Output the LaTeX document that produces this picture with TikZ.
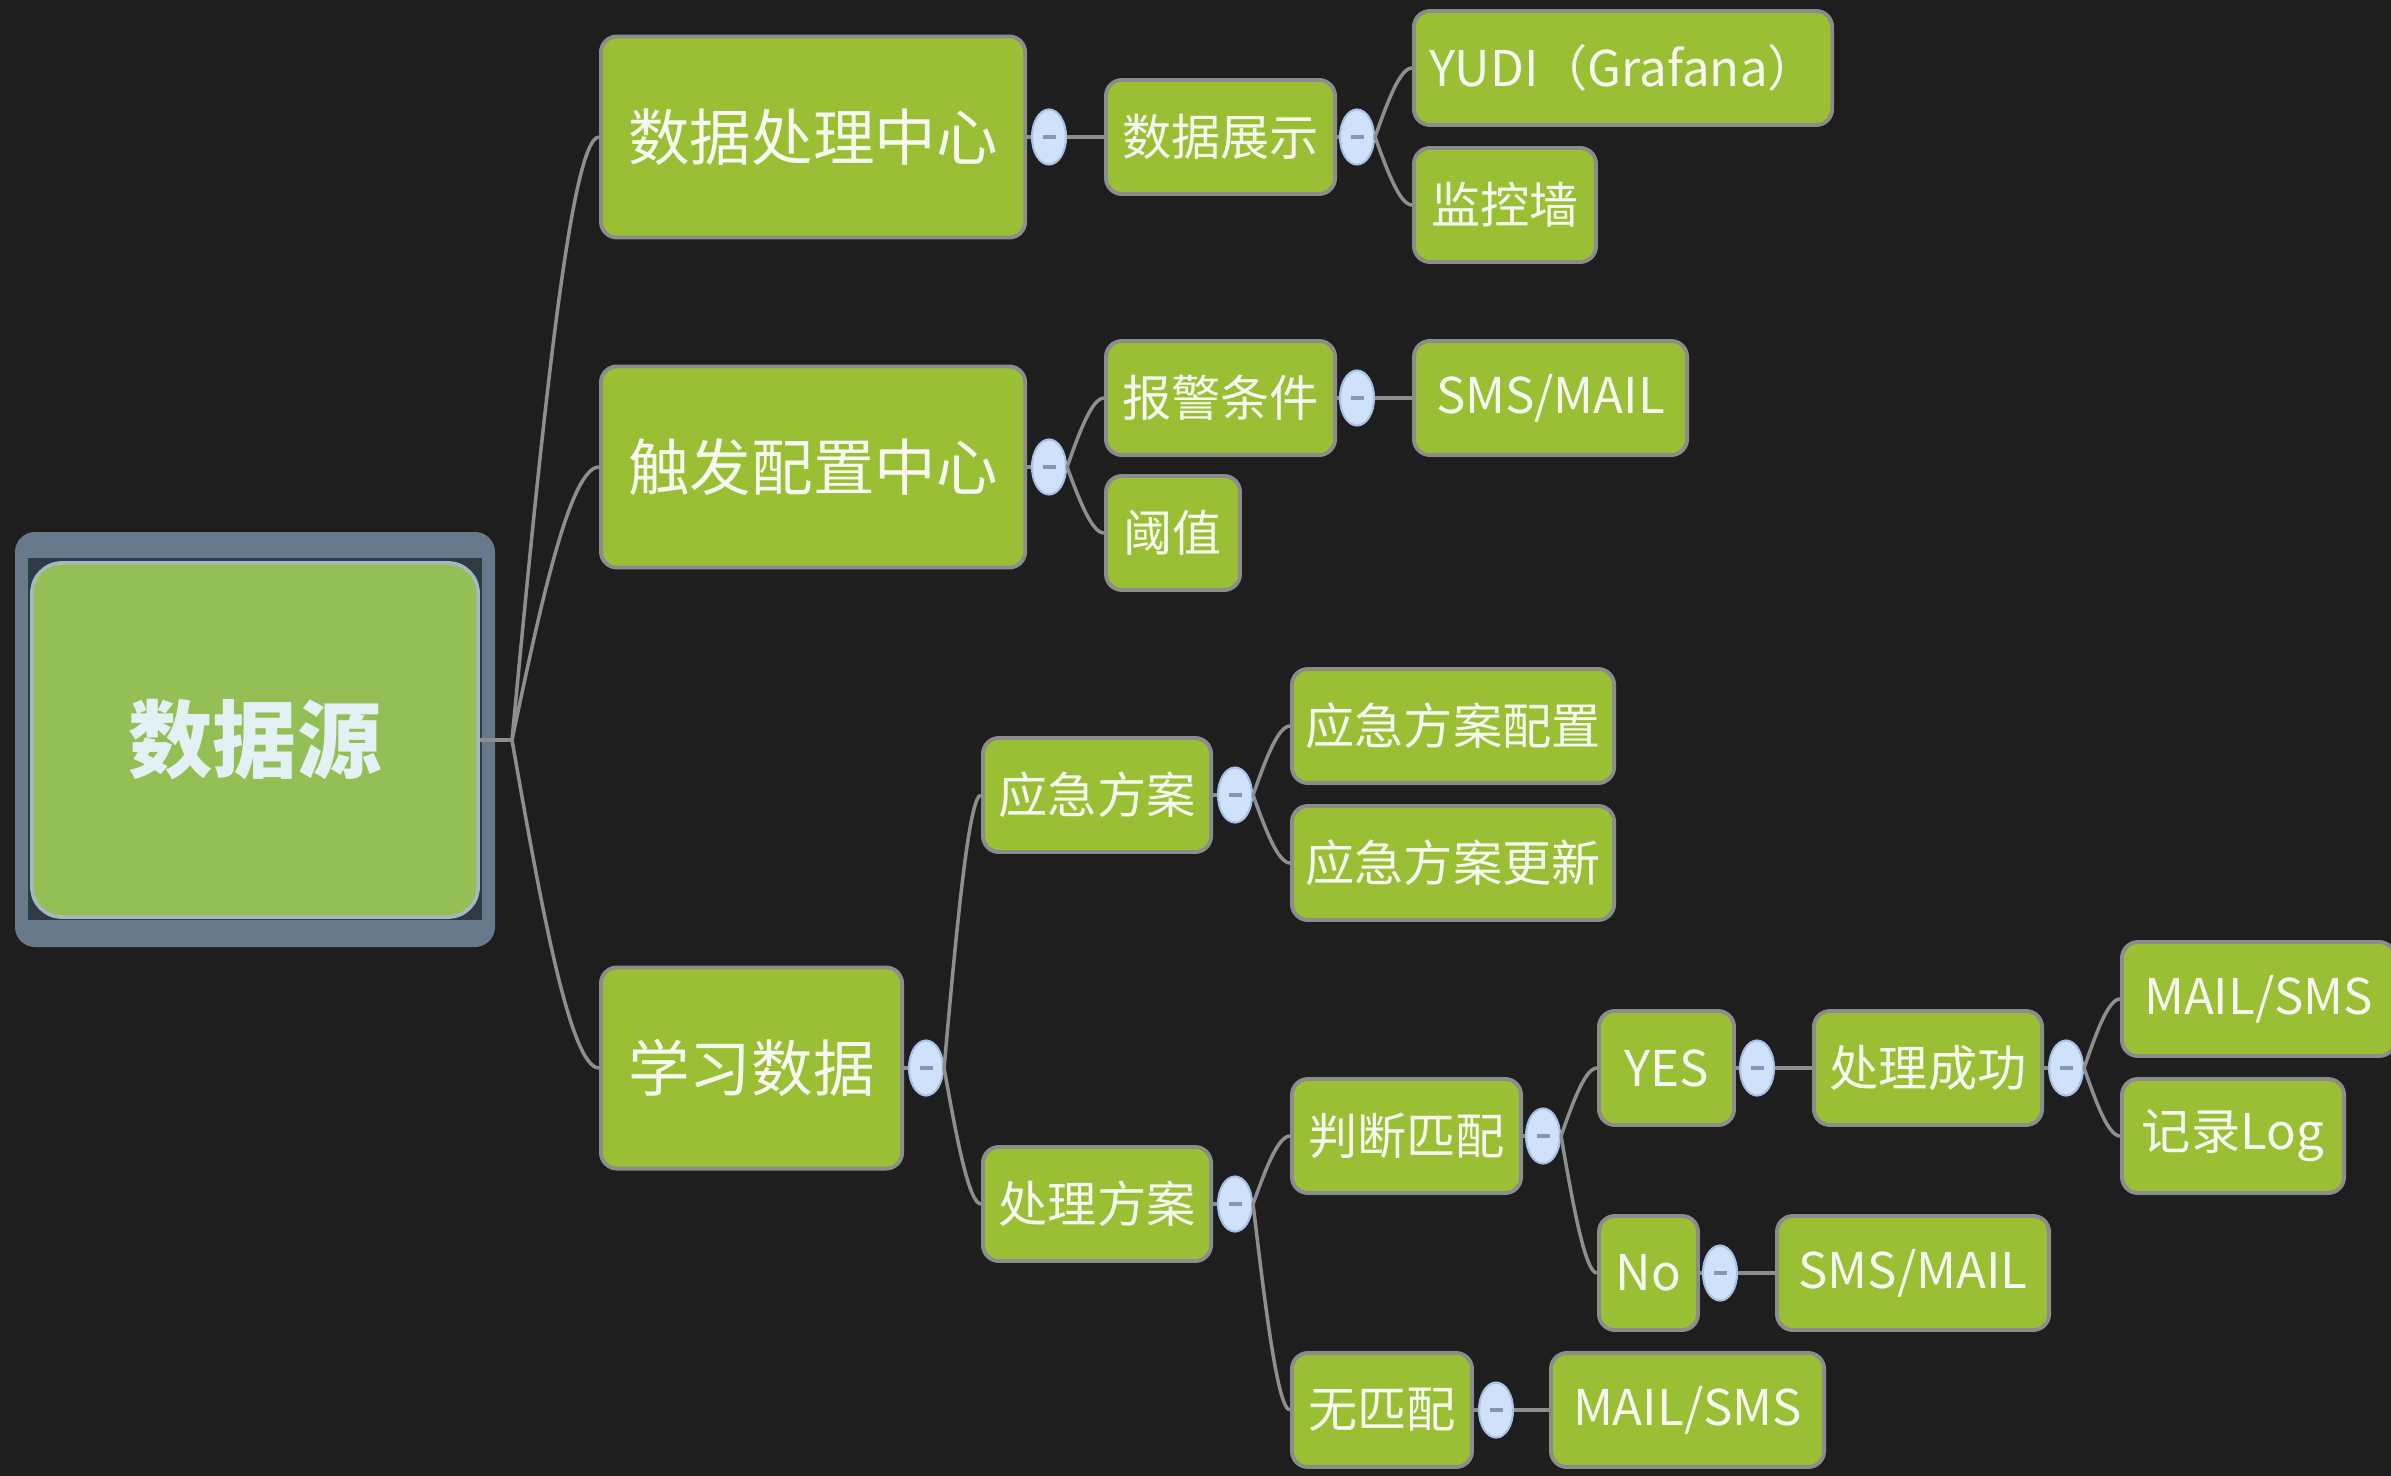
\documentclass[tikz,border=0pt]{standalone}
\usepackage{fontspec}
\setmainfont{Noto Sans CJK SC}
\usetikzlibrary{shapes.geometric,calc}

\definecolor{bgdark}{HTML}{1E1E1E}
\definecolor{nodegreen}{HTML}{9ABF34}
\definecolor{rootgreen}{HTML}{94BF55}
\definecolor{nodeborder}{HTML}{8C8C8C}
\definecolor{linegray}{HTML}{8E8E8E}
\definecolor{framecol}{HTML}{67798A}
\definecolor{framedark}{HTML}{2E3B42}
\definecolor{rootborder}{HTML}{A5B8C4}
\definecolor{bubblefill}{HTML}{D0E2FB}
\definecolor{bubbleborder}{HTML}{A9C1EA}
\definecolor{minuscol}{HTML}{8B93B9}
\definecolor{textwhite}{HTML}{F6F9EF}
\definecolor{roottext}{HTML}{E3F0F4}

\begin{document}
\begin{tikzpicture}[x=0.01cm,y=-0.01cm,
    topic/.style={rounded corners=0.16cm,fill=nodegreen,draw=nodeborder,line width=1.1pt,text=textwhite,inner sep=0pt,anchor=west},
    hubnode/.style={topic,minimum height=2.01cm,font=\fontsize{17.5}{20}\selectfont},
    leafnode/.style={topic,minimum height=1.14cm,font=\fontsize{14}{16}\selectfont},
    rootbox/.style={rounded corners=0.3cm,fill=rootgreen,draw=rootborder,line width=1pt,minimum width=4.46cm,minimum height=3.54cm,text=roottext,font=\bfseries\fontsize{24}{28}\selectfont},
    fold/.style={ellipse,fill=bubblefill,draw=bubbleborder,line width=0.6pt,minimum width=0.34cm,minimum height=0.55cm,inner sep=0pt,text=minuscol},
    link/.style={draw=linegray,line width=1pt},
    curvy/.style={to path={let \p1=(\tikztostart), \p2=(\tikztotarget) in
        .. controls ({\x1+0.33*(\x2-\x1)},{\y1+0.5*(\y2-\y1)}) and ({\x2-0.33*(\x2-\x1)},\y2) .. (\tikztotarget)}}]
    \useasboundingbox (0,0) rectangle (2391,1476);
    \fill[bgdark] (0,0) rectangle (2391,1476);

    \fill[framecol,rounded corners=0.2cm] (15,532) rectangle (495,947);
    \fill[framedark] (28,558) rectangle (482,920);
    \node[rootbox] (root) at (255,740) {数据源};

    \node[hubnode,minimum width=4.24cm] (proc) at (599,137) {数据处理中心};
    \node[hubnode,minimum width=4.24cm] (trig) at (599,467) {触发配置中心};
    \node[hubnode,minimum width=3.01cm] (learn) at (599,1068) {学习数据};

    \node[fold] (fproc) at (1049,137) {\rule{0.13cm}{0.04cm}};
    \node[fold] (ftrig) at (1049,467) {\rule{0.13cm}{0.04cm}};
    \node[fold] (flearn) at (926,1068) {\rule{0.13cm}{0.04cm}};

    \node[leafnode,minimum width=2.29cm] (show) at (1104,137) {数据展示};
    \node[fold] (fshow) at (1357,137) {\rule{0.13cm}{0.04cm}};
    \node[leafnode,minimum width=4.18cm] (grafana) at (1412,68) {YUDI（Grafana）};
    \node[leafnode,minimum width=1.82cm] (wall) at (1412,205) {监控墙};

    \node[leafnode,minimum width=2.29cm] (alarm) at (1104,398) {报警条件};
    \node[fold] (falarm) at (1357,398) {\rule{0.13cm}{0.04cm}};
    \node[leafnode,minimum width=2.73cm] (alarmsms) at (1412,398) {SMS/MAIL};
    \node[leafnode,minimum width=1.34cm] (thresh) at (1104,533) {阈值};

    \node[leafnode,minimum width=2.28cm] (plan) at (981,795) {应急方案};
    \node[fold] (fplan) at (1235,795) {\rule{0.13cm}{0.04cm}};
    \node[leafnode,minimum width=3.22cm] (plancfg) at (1290,726) {应急方案配置};
    \node[leafnode,minimum width=3.22cm] (planupd) at (1290,863) {应急方案更新};

    \node[leafnode,minimum width=2.28cm] (handle) at (981,1204) {处理方案};
    \node[fold] (fhandle) at (1235,1204) {\rule{0.13cm}{0.04cm}};
    \node[leafnode,minimum width=2.29cm] (match) at (1290,1136) {判断匹配};
    \node[fold] (fmatch) at (1543,1136) {\rule{0.13cm}{0.04cm}};
    \node[leafnode,minimum width=1.35cm] (yes) at (1597,1068) {YES};
    \node[fold] (fyes) at (1757,1068) {\rule{0.13cm}{0.04cm}};
    \node[leafnode,minimum width=2.28cm] (done) at (1812,1068) {处理成功};
    \node[fold] (fdone) at (2066,1068) {\rule{0.13cm}{0.04cm}};
    \node[leafnode,minimum width=2.73cm] (donemail) at (2120,999) {MAIL/SMS};
    \node[leafnode,minimum width=2.22cm] (donelog) at (2120,1136) {记录Log};
    \node[leafnode,minimum width=0.99cm] (no) at (1597,1273) {No};
    \node[fold] (fno) at (1720,1273) {\rule{0.13cm}{0.04cm}};
    \node[leafnode,minimum width=2.72cm] (nosms) at (1775,1273) {SMS/MAIL};
    \node[leafnode,minimum width=1.80cm] (nomatch) at (1290,1410) {无匹配};
    \node[fold] (fnomatch) at (1496,1410) {\rule{0.13cm}{0.04cm}};
    \node[leafnode,minimum width=2.73cm] (nomatchmail) at (1549,1410) {MAIL/SMS};

    \coordinate (rj) at (512,740);
    \draw[link] (root.east) -- (rj);
    \draw[link] (rj) to[curvy] (proc.west);
    \draw[link] (rj) to[curvy] (trig.west);
    \draw[link] (rj) to[curvy] (learn.west);

    \draw[link] (proc.east) -- (fproc.west);
    \draw[link] (fproc.east) -- (show.west);
    \draw[link] (show.east) -- (fshow.west);
    \draw[link] (fshow.east) to[curvy] (grafana.west);
    \draw[link] (fshow.east) to[curvy] (wall.west);

    \draw[link] (trig.east) -- (ftrig.west);
    \draw[link] (ftrig.east) to[curvy] (alarm.west);
    \draw[link] (ftrig.east) to[curvy] (thresh.west);
    \draw[link] (alarm.east) -- (falarm.west);
    \draw[link] (falarm.east) -- (alarmsms.west);

    \draw[link] (learn.east) -- (flearn.west);
    \draw[link] (flearn.east) to[curvy] (plan.west);
    \draw[link] (flearn.east) to[curvy] (handle.west);
    \draw[link] (plan.east) -- (fplan.west);
    \draw[link] (fplan.east) to[curvy] (plancfg.west);
    \draw[link] (fplan.east) to[curvy] (planupd.west);
    \draw[link] (handle.east) -- (fhandle.west);
    \draw[link] (fhandle.east) to[curvy] (match.west);
    \draw[link] (fhandle.east) to[curvy] (nomatch.west);
    \draw[link] (match.east) -- (fmatch.west);
    \draw[link] (fmatch.east) to[curvy] (yes.west);
    \draw[link] (fmatch.east) to[curvy] (no.west);
    \draw[link] (yes.east) -- (fyes.west);
    \draw[link] (fyes.east) -- (done.west);
    \draw[link] (done.east) -- (fdone.west);
    \draw[link] (fdone.east) to[curvy] (donemail.west);
    \draw[link] (fdone.east) to[curvy] (donelog.west);
    \draw[link] (no.east) -- (fno.west);
    \draw[link] (fno.east) -- (nosms.west);
    \draw[link] (nomatch.east) -- (fnomatch.west);
    \draw[link] (fnomatch.east) -- (nomatchmail.west);
\end{tikzpicture}
\end{document}
